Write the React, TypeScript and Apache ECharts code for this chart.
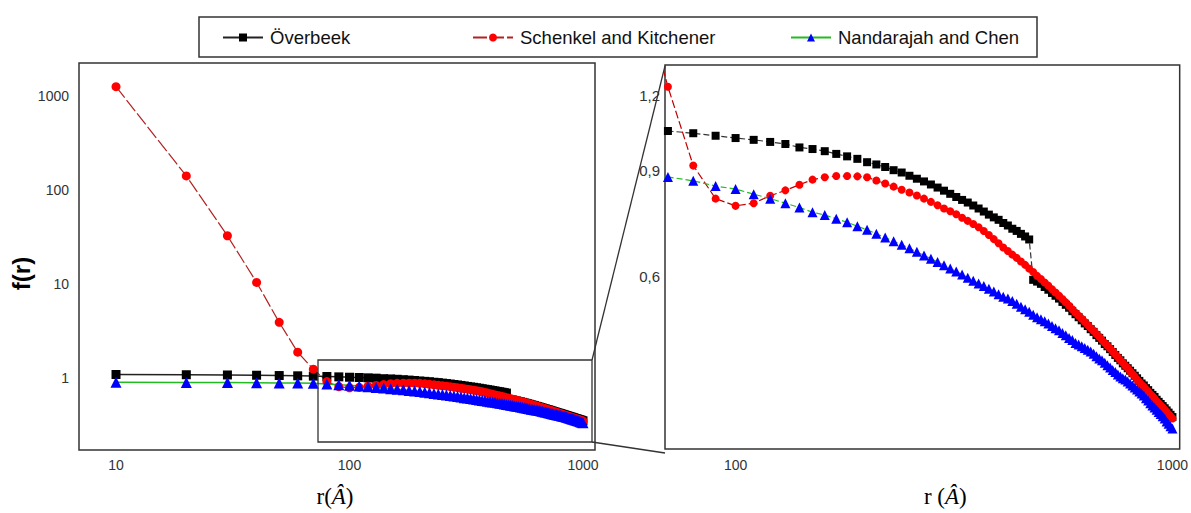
import React, { useEffect, useRef } from "react";
import * as echarts from "echarts";

// separation distance r (Å)
const rValues = [
  10, 20, 30, 40, 50, 60, 70, 80, 90, 100,
  110, 120, 130, 140, 150, 160, 170, 180, 190, 200,
  210, 220, 230, 240, 250, 260, 270, 280, 290, 300,
  310, 320, 330, 340, 350, 360, 370, 380, 390, 400,
  410, 420, 430, 440, 450, 460, 470, 480, 490, 500,
  510, 520, 530, 540, 550, 560, 570, 580, 590, 600,
  610, 620, 630, 640, 650, 660, 670, 680, 690, 700,
  710, 720, 730, 740, 750, 760, 770, 780, 790, 800,
  810, 820, 830, 840, 850, 860, 870, 880, 890, 900,
  910, 920, 930, 940, 950, 960, 970, 980, 990, 1000,
];

const overbeek = [
  1.09, 1.083, 1.077, 1.07, 1.062, 1.055, 1.047, 1.038, 1.028, 1.019,
  1.012, 1.004, 0.996, 0.983, 0.977, 0.969, 0.959, 0.95, 0.941, 0.929,
  0.921, 0.912, 0.901, 0.893, 0.882, 0.872, 0.863, 0.853, 0.843, 0.833,
  0.823, 0.813, 0.804, 0.796, 0.787, 0.778, 0.769, 0.76, 0.752, 0.745,
  0.736, 0.729, 0.72, 0.714, 0.706, 0.699, 0.691, 0.592, 0.588, 0.583,
  0.576, 0.57, 0.563, 0.557, 0.551, 0.544, 0.538, 0.532, 0.525, 0.519,
  0.513, 0.507, 0.501, 0.496, 0.49, 0.485, 0.479, 0.474, 0.469, 0.463,
  0.459, 0.454, 0.449, 0.444, 0.439, 0.435, 0.43, 0.426, 0.422, 0.418,
  0.414, 0.41, 0.406, 0.402, 0.398, 0.395, 0.391, 0.388, 0.384, 0.381,
  0.378, 0.374, 0.371, 0.368, 0.365, 0.362, 0.359, 0.356, 0.353, 0.35,
];

const schenkel = [
  1256, 141, 32.6, 10.4, 3.91, 1.88, 1.24, 0.917, 0.808, 0.786,
  0.794, 0.817, 0.834, 0.852, 0.869, 0.877, 0.881, 0.881, 0.88, 0.877,
  0.866, 0.856, 0.846, 0.836, 0.827, 0.818, 0.808, 0.798, 0.788, 0.778,
  0.77, 0.761, 0.751, 0.742, 0.733, 0.724, 0.714, 0.703, 0.692, 0.681,
  0.67, 0.661, 0.652, 0.644, 0.635, 0.627, 0.618, 0.61, 0.601, 0.594,
  0.586, 0.579, 0.571, 0.564, 0.557, 0.55, 0.543, 0.536, 0.529, 0.522,
  0.516, 0.51, 0.504, 0.498, 0.492, 0.487, 0.481, 0.476, 0.47, 0.465,
  0.46, 0.455, 0.45, 0.445, 0.44, 0.435, 0.431, 0.426, 0.422, 0.417,
  0.413, 0.409, 0.404, 0.4, 0.396, 0.393, 0.389, 0.386, 0.382, 0.379,
  0.376, 0.372, 0.369, 0.366, 0.363, 0.36, 0.357, 0.354, 0.351, 0.348,
];

const nandarajah = [
  0.9, 0.897, 0.894, 0.891, 0.887, 0.883, 0.878, 0.865, 0.848, 0.838,
  0.822, 0.808, 0.794, 0.781, 0.767, 0.759, 0.748, 0.738, 0.727, 0.717,
  0.706, 0.696, 0.686, 0.677, 0.668, 0.659, 0.65, 0.642, 0.634, 0.626,
  0.618, 0.611, 0.604, 0.597, 0.59, 0.584, 0.578, 0.572, 0.566, 0.56,
  0.555, 0.551, 0.546, 0.54, 0.534, 0.529, 0.524, 0.518, 0.513, 0.509,
  0.505, 0.501, 0.496, 0.492, 0.488, 0.483, 0.479, 0.474, 0.47, 0.465,
  0.462, 0.459, 0.456, 0.453, 0.45, 0.446, 0.442, 0.438, 0.435, 0.431,
  0.427, 0.423, 0.419, 0.416, 0.412, 0.409, 0.406, 0.404, 0.401, 0.398,
  0.395, 0.392, 0.389, 0.386, 0.383, 0.38, 0.376, 0.373, 0.369, 0.366,
  0.363, 0.36, 0.357, 0.354, 0.351, 0.348, 0.344, 0.341, 0.338, 0.335,
];

const seriesNames = ["Överbeek", "Schenkel and Kitchener", "Nandarajah and Chen"];
const leftXTicks = [10, 100, 1000];
const leftYTicks = [1, 10, 100, 1000];
const rightXTicks = [100, 1000];
const rightYTicks = [0.6, 0.9, 1.2];

const pairs = (ys: number[]) => rValues.map((r, i) => [r, ys[i]]);

export default function App() {
  const ref = useRef<HTMLDivElement>(null);
  useEffect(() => {
    const chart = echarts.init(ref.current!, null, { renderer: "svg" });
    const tickFont = { fontFamily: "Liberation Sans", fontSize: 14, color: "#333" };
    const nameRich = {
      n: { fontFamily: "Liberation Serif", fontSize: 23, color: "#000" },
      i: { fontFamily: "Liberation Serif", fontSize: 23, fontStyle: "italic", color: "#000" },
    };
    const hideAxis = {
      axisLine: { show: false },
      axisTick: { show: false },
      splitLine: { show: false },
    };
    const legendCommon = {
      itemWidth: 40,
      itemHeight: 10,
      padding: 0,
      itemGap: 0,
      selectedMode: false,
      textStyle: { fontFamily: "Liberation Sans", fontSize: 18.5, color: "#111", padding: [0, 0, 0, 2] },
      top: 28,
    };
    const styles = [
      {
        symbol: "rect",
        symbolSize: 8,
        itemStyle: { color: "#000" },
        lineStyle: { color: "#333", width: 1.2, type: [6, 3] },
        leftLine: { color: "#222", width: 1.5, type: "solid" },
      },
      {
        symbol: "circle",
        symbolSize: 8,
        itemStyle: { color: "#ff0000" },
        lineStyle: { color: "#c00000", width: 1.2, type: [8, 3] },
        leftLine: { color: "#b22222", width: 1.2, type: [14, 3] },
      },
      {
        symbol: "triangle",
        symbolSize: 10,
        itemStyle: { color: "#0000ff" },
        lineStyle: { color: "#22bb22", width: 1.2, type: [6, 3] },
        leftLine: { color: "#22bb22", width: 1.5, type: "solid" },
      },
    ];
    const datasets = [overbeek, schenkel, nandarajah];
    const series: any[] = [];
    [0, 1].forEach((g) => {
      datasets.forEach((d, k) => {
        const st = styles[k];
        series.push({
          type: "line",
          name: seriesNames[k],
          xAxisIndex: g,
          yAxisIndex: g,
          data: pairs(d),
          symbol: st.symbol,
          symbolSize: g === 0 ? st.symbolSize + 1 : st.symbolSize,
          itemStyle: st.itemStyle,
          lineStyle: g === 0 ? st.leftLine : st.lineStyle,
          clip: true,
          emphasis: { disabled: true },
        });
      });
    });

    const option: any = {
      animation: false,
      backgroundColor: "#fff",
      grid: [
        { left: 79, top: 63, width: 516, height: 387, show: true, borderColor: "#333", borderWidth: 1.5, backgroundColor: "transparent" },
        { left: 665, top: 65, width: 522, height: 388, show: true, borderColor: "#333", borderWidth: 1.5, backgroundColor: "transparent" },
      ],
      xAxis: [
        {
          type: "log",
          gridIndex: 0,
          min: 6.942,
          max: 1125.6,
          ...hideAxis,
          axisLabel: { ...tickFont, margin: 8, customValues: leftXTicks, formatter: (v: number) => String(Math.round(v)) },
          name: "{n|r(}{i|Â}{n|)}",
          nameLocation: "middle",
          nameGap: 35,
          nameTextStyle: { rich: nameRich, padding: [0, 4, 0, 0] },
        },
        {
          type: "log",
          gridIndex: 1,
          min: 68.93,
          max: 1039,
          ...hideAxis,
          axisLabel: { ...tickFont, margin: 9, customValues: rightXTicks, formatter: (v: number) => String(Math.round(v)) },
          name: "{n|r (}{i|Â}{n|)}",
          nameLocation: "middle",
          nameGap: 36,
          nameTextStyle: { rich: nameRich, padding: [0, 0, 0, 46] },
        },
      ],
      yAxis: [
        {
          type: "log",
          gridIndex: 0,
          min: 0.1714,
          max: 2244,
          ...hideAxis,
          axisLabel: { ...tickFont, margin: 10, customValues: leftYTicks, formatter: (v: number) => String(Math.round(v)) },
          name: "f(r)",
          nameLocation: "middle",
          nameRotate: 90,
          nameGap: 40,
          nameTextStyle: { fontFamily: "Liberation Sans", fontSize: 24, fontWeight: "bold", color: "#000", padding: [0, 34, 0, 0] },
        },
        {
          type: "log",
          gridIndex: 1,
          min: 0.3097,
          max: 1.348,
          ...hideAxis,
          axisLabel: {
            ...tickFont,
            fontSize: 15,
            margin: 5,
            customValues: rightYTicks,
            formatter: (v: number) => v.toFixed(1).replace(".", ","),
          },
        },
      ],
      legend: [
        { ...legendCommon, data: [seriesNames[0]], left: 222 },
        { ...legendCommon, data: [seriesNames[1]], left: 472 },
        { ...legendCommon, data: [seriesNames[2]], left: 790 },
      ],
      graphic: [
        { type: "rect", shape: { x: 199, y: 17, width: 838, height: 40 }, style: { fill: "none", stroke: "#333", lineWidth: 1.5 }, z: 100 },
        { type: "rect", shape: { x: 318, y: 360, width: 274, height: 82 }, style: { fill: "none", stroke: "#333", lineWidth: 1.3 }, z: 100 },
        { type: "line", shape: { x1: 592, y1: 360, x2: 665, y2: 66 }, style: { stroke: "#333", lineWidth: 1.3 }, z: 100 },
        { type: "line", shape: { x1: 592, y1: 442, x2: 665, y2: 453 }, style: { stroke: "#333", lineWidth: 1.3 }, z: 100 },
      ],
      series,
    };
    chart.setOption(option);
    return () => chart.dispose();
  }, []);
  return <div ref={ref} style={{ position: "absolute", left: 0, top: 0, width: 1191, height: 513 }} />;
}
